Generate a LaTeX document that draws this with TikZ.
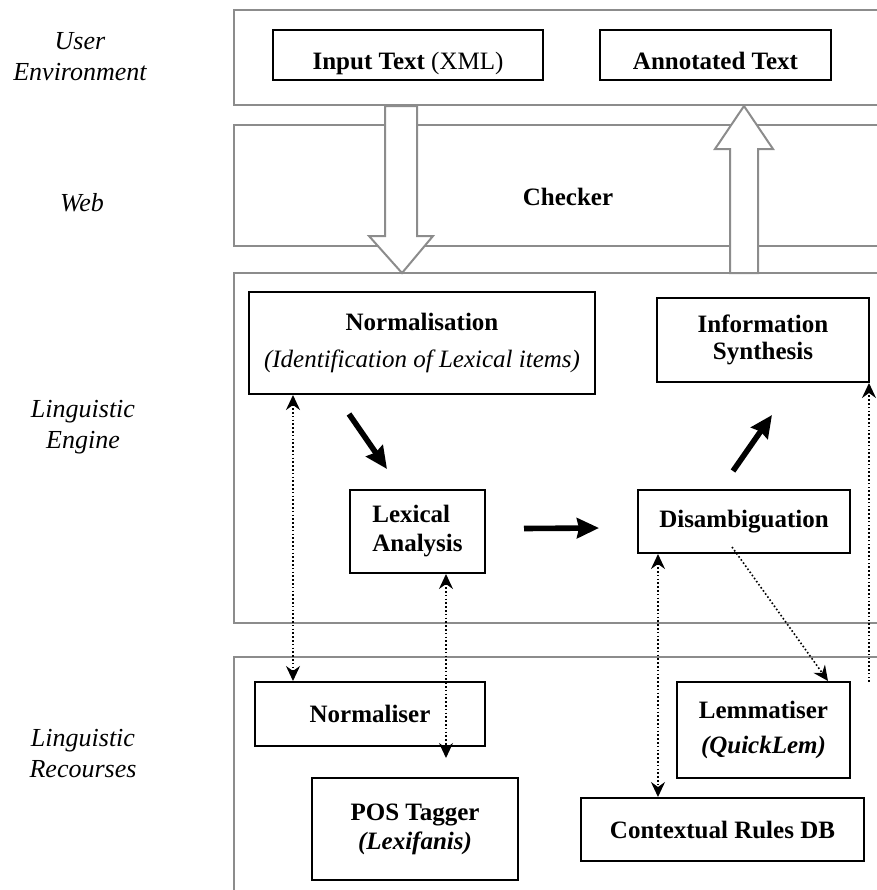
\documentclass[tikz,border=0pt]{standalone}
\usepackage{fontspec}
\setmainfont{Liberation Serif}
\usetikzlibrary{arrows.meta,calc}
\begin{document}
\begin{tikzpicture}[x=0.5pt,y=-0.5pt,
  layer/.style={draw=black!45,line width=1pt},
  box/.style={draw=black,line width=1pt,inner sep=0pt,align=center,font=\fontsize{12.5}{14}\selectfont\bfseries},
  lbl/.style={inner sep=0pt,align=center,font=\fontsize{13}{15.5}\selectfont\itshape},
  blockarrow/.style={draw=black!45,line width=1pt,fill=white},
  flow/.style={line width=2.8pt,-{Stealth[length=11pt,width=10pt,inset=1pt]}},
  dotted line/.style={line width=0.8pt,dash pattern=on 0.8pt off 1.1pt},
  dottip/.style={-{Stealth[length=7.5pt,width=7pt,inset=2.5pt]}},
  dotboth/.style={dotted line,{Stealth[length=7.5pt,width=7pt,inset=2.5pt]}-{Stealth[length=7.5pt,width=7pt,inset=2.5pt]}},
  dotone/.style={dotted line,dottip}]
\useasboundingbox (0,0) rectangle (877,890);
\clip (0,0) rectangle (877,890);

% layers
\draw[layer] (234,10) rectangle (900,105);
\draw[layer] (234,125) rectangle (900,246);
\draw[layer] (234,273) rectangle (900,623);
\draw[layer] (234,657) rectangle (900,920);

% block arrows
\draw[blockarrow] (385,106) -- (417,106) -- (417,236) -- (433,236) -- (402,273) -- (369,236) -- (385,236) -- cycle;
\draw[blockarrow] (730,273) -- (730,149) -- (715,149) -- (744,106) -- (773,149) -- (758,149) -- (758,273) -- cycle;

% left labels
\node[lbl] (lue) at (80,57) {User\\[0pt]Environment};
\node[lbl] (lweb) at (82,203) {Web};
\node[lbl] (lle) at (83,427) {Linguistic\\[0pt]Engine};
\node[lbl] (llr) at (83,754) {Linguistic\\[0pt]Recourses};

% boxes
\node[box,minimum width=135pt,minimum height=25pt] (inp) at (408,55) {\raisebox{-2.5pt}[9pt][0pt]{Input Text \textmd{(XML)}}};
\node[box,minimum width=115.5pt,minimum height=25pt] (ann) at (715.5,55) {\raisebox{-2.5pt}[9pt][0pt]{Annotated Text}};
\node[inner sep=0pt,font=\fontsize{12.5}{14}\selectfont\bfseries] (chk) at (568,197) {Checker};

\node[box,minimum width=173pt,minimum height=51pt,font=\fontsize{12.5}{18.5}\selectfont\bfseries] (normzn) at (422,343) {Normalisation\\\textmd{\itshape (Identification of Lexical items)}};
\node[box,minimum width=106pt,minimum height=42pt,font=\fontsize{12.5}{13.5}\selectfont\bfseries] (info) at (763,340) {Information\\Synthesis};
\node[box,minimum width=67.5pt,minimum height=41.5pt,align=left,font=\fontsize{12.5}{14.5}\selectfont\bfseries] (lex) at (417.5,531.5) {Lexical\\Analysis};
\node[box,minimum width=106pt,minimum height=31.5pt] (dis) at (744,521.5) {Disambiguation};

\node[box,minimum width=115pt,minimum height=32pt] (normr) at (370,714) {Normaliser};
\node[box,minimum width=103pt,minimum height=51pt,font=\fontsize{12.5}{14.5}\selectfont\bfseries] (pos) at (415,829) {POS Tagger\\\itshape (Lexifanis)};
\node[box,minimum width=86.5pt,minimum height=48pt,font=\fontsize{12.5}{17.5}\selectfont\bfseries] (lem) at (763.5,730) {Lemmatiser\\\itshape (QuickLem)};
\node[box,minimum width=141.5pt,minimum height=31.5pt] (crdb) at (722.5,829.5) {Contextual Rules DB};

% flow arrows
\draw[flow] ($(normzn.south west)+(101,19)$) -- ($(lex.north west)+(38,-20)$);
\draw[flow] ($(lex.east)+(38,-3)$) -- ($(dis.west)+(-38,6.5)$);
\draw[flow] ($(dis.north west)+(96,-18)$) -- ($(info.south west)+(116,32)$);

% dotted links
\coordinate (d1) at (293,0);
\coordinate (d2) at (446,0);
\coordinate (d3) at (658,0);
\coordinate (d5) at (869,0);
\draw[dotboth] (normzn.south -| d1) -- (normr.north -| d1);
\draw[dotboth] (lex.south -| d2) -- (d2 |- 0,758);
\draw[dotboth] (dis.south -| d3) -- (crdb.north -| d3);
\draw[dotone] ($(dis.south west)+(95,-7)$) -- ($(lem.north west)+(152,0)$);
\coordinate (rend) at (869,682);
\draw[dotone] (rend) -- (d5 |- info.south);
\end{tikzpicture}
\end{document}
